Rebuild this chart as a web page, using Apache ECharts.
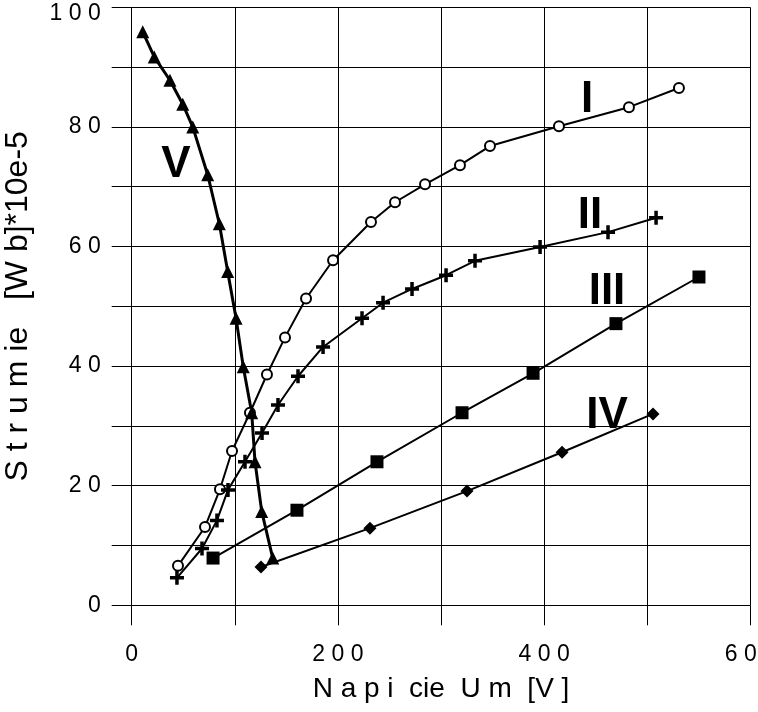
<!DOCTYPE html>
<html>
<head>
<meta charset="utf-8">
<script src="https://cdn.jsdelivr.net/npm/echarts@6/dist/echarts.min.js"></script>
<style>
html,body{margin:0;padding:0;background:#fff;}
#chart{width:758px;height:712px;}
</style>
</head>
<body>
<div id="chart"></div>
<script>
// Series I (open circles)
const uI   = [44.9, 71.1, 85.6, 97.3, 114.7, 131.2, 148.7, 169.1, 195.3, 232.1, 255.4, 284.5, 318.4, 347.5, 414.4, 482.3, 530.8];
const phiI = [6.6, 13.1, 19.4, 25.8, 32.2, 38.6, 44.8, 51.3, 57.7, 64.1, 67.4, 70.4, 73.6, 76.8, 80.1, 83.3, 86.5];
// Series II (plus)
const uII   = [43.9, 68.2, 82.7, 93.4, 109.9, 126.4, 141.9, 161.3, 185.6, 223.4, 243.8, 271.9, 304.9, 333.0, 396.1, 462.0, 508.6];
const phiII = [4.6, 9.5, 14.2, 19.3, 24.0, 28.8, 33.5, 38.3, 43.2, 48.0, 50.6, 52.9, 55.2, 57.6, 59.9, 62.4, 64.8];
// Series III (filled squares)
const uIII   = [78.9, 160.3, 237.9, 320.4, 389.3, 469.7, 550.2];
const phiIII = [7.9, 15.9, 24.0, 32.2, 38.8, 47.1, 54.9];
// Series IV (diamonds)
const uIV   = [125.4, 231.1, 325.2, 417.4, 505.6];
const phiIV = [6.4, 12.9, 19.1, 25.6, 32.0];
// Series V (triangles)
const uV   = [10.7, 21.9, 37.1, 49.5, 59.2, 73.7, 85.0, 93.1, 101.2, 108.2, 116.4, 119.6, 126.1, 136.8];
const phiV = [95.9, 91.7, 87.8, 83.8, 80.0, 72.0, 63.8, 55.8, 48.0, 39.9, 32.2, 24.0, 15.7, 7.9];

const seriesNames = ['I', 'II', 'III', 'IV', 'V'];
const xTitle = 'N a p i  cie  U m  [V ]';
const yTitle = 'S t r u m ie   [W b]*10e-5';

const NARROW = "'Liberation Sans','Roboto',sans-serif";
const BOLD = "'Liberation Sans','Arial',sans-serif";

function pairs(xs, ys) { return xs.map((x, i) => [x, ys[i]]); }
function spaced(v) { return String(v).split('').join(' '); }

const plusPath = 'path://M4.5,0H7.5V4.5H12V7.5H7.5V12H4.5V7.5H0V4.5H4.5Z';

const chart = echarts.init(document.getElementById('chart'), null, {renderer: 'canvas'});

const baseLine = {type: 'line', color: '#000', lineStyle: {color: '#000', width: 2}, itemStyle: {color: '#000'}, z: 3, animation: false};

chart.setOption({
  backgroundColor: '#fff',
  animation: false,
  grid: {left: 131.7, right: 7.7, top: 7.3, bottom: 106.7, containLabel: false, outerBoundsMode: 'none'},
  xAxis: {
    type: 'value', min: 0, max: 600, interval: 100,
    axisLine: {show: true, lineStyle: {color: '#000', width: 1}},
    axisTick: {show: true, inside: false, length: 20, lineStyle: {color: '#000', width: 1}},
    splitLine: {show: true, lineStyle: {color: '#000', width: 1}},
    axisLabel: {
      margin: 38, color: '#000', fontFamily: NARROW, fontSize: 23,
      formatter: v => (v % 200 === 0 ? spaced(v) : ''),
      showMaxLabel: true, hideOverlap: false
    },
    name: xTitle, nameLocation: 'middle', nameGap: 70,
    nameTextStyle: {color: '#000', fontFamily: NARROW, fontSize: 28}
  },
  yAxis: {
    type: 'value', min: 0, max: 100, interval: 10,
    axisLine: {show: true, lineStyle: {color: '#000', width: 1}},
    axisTick: {show: true, inside: false, length: 20, lineStyle: {color: '#000', width: 1}},
    splitLine: {show: true, lineStyle: {color: '#000', width: 1}},
    axisLabel: {
      margin: 31, color: '#000', fontFamily: NARROW, fontSize: 23,
      formatter: v => (v === 100 ? '{top|' + spaced(v) + '}' : (v % 20 === 0 ? spaced(v) : '')),
      rich: {top: {fontFamily: NARROW, fontSize: 23, color: '#000', padding: [13, 0, 0, 0]}},
      showMaxLabel: true
    },
    name: yTitle, nameLocation: 'middle', nameGap: 98, nameRotate: 90,
    nameTextStyle: {color: '#000', fontFamily: NARROW, fontSize: 32}
  },
  series: [
    Object.assign({}, baseLine, {
      name: seriesNames[0], data: pairs(uI, phiI),
      symbol: 'emptyCircle', symbolSize: 10,
      itemStyle: {color: '#000', borderColor: '#000', borderWidth: 1}
    }),
    Object.assign({}, baseLine, {
      name: seriesNames[1], data: pairs(uII, phiII),
      symbol: plusPath, symbolSize: 14
    }),
    Object.assign({}, baseLine, {
      name: seriesNames[2], data: pairs(uIII, phiIII),
      symbol: 'rect', symbolSize: 13
    }),
    Object.assign({}, baseLine, {
      name: seriesNames[3], data: pairs(uIV, phiIV),
      symbol: 'diamond', symbolSize: 13
    }),
    Object.assign({}, baseLine, {
      name: seriesNames[4], data: pairs(uV, phiV),
      symbol: 'triangle', symbolSize: 13,
      lineStyle: {color: '#000', width: 3}
    })
  ],
  graphic: [
    {type: 'text', x: 587, y: 100, style: {text: seriesNames[0], font: 'bold 44px ' + BOLD, fill: '#000', align: 'center', verticalAlign: 'middle'}},
    {type: 'text', x: 590, y: 216, style: {text: seriesNames[1], font: 'bold 44px ' + BOLD, fill: '#000', align: 'center', verticalAlign: 'middle'}},
    {type: 'text', x: 607, y: 292, style: {text: seriesNames[2], font: 'bold 44px ' + BOLD, fill: '#000', align: 'center', verticalAlign: 'middle'}},
    {type: 'text', x: 607, y: 416, style: {text: seriesNames[3], font: 'bold 44px ' + BOLD, fill: '#000', align: 'center', verticalAlign: 'middle'}},
    {type: 'text', x: 176, y: 165, style: {text: seriesNames[4], font: 'bold 44px ' + BOLD, fill: '#000', align: 'center', verticalAlign: 'middle'}}
  ]
});
</script>
</body>
</html>
